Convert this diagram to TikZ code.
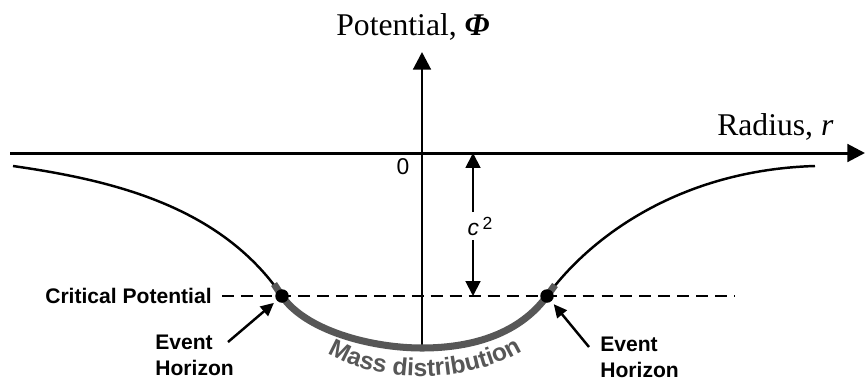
\documentclass[tikz,border=0pt]{standalone}
\usepackage{fontspec}
\setmainfont{Liberation Serif}
\setsansfont{Liberation Sans}
\usetikzlibrary{arrows.meta,decorations.text}
\definecolor{massgray}{gray}{0.34}
\newcommand\massfont{\sffamily\bfseries\fontsize{14}{14}\selectfont}
\tikzset{
  axis/.style={line width=1.7pt, -{Triangle[length=10pt,width=10pt]}},
  gap/.style={line width=1.1pt, -{Triangle[length=8.5pt,width=8.5pt]}},
  pointer/.style={line width=1.4pt, -{Triangle[length=7.5pt,width=7pt]}, shorten >=2pt},
  crit/.style={line width=1.4pt, dash pattern=on 6.8pt off 4pt},
  dot/.style={circle, fill=black, inner sep=0pt, minimum size=0.27cm},
  lbl/.style={font=\sffamily\bfseries\fontsize{12}{14.7}\selectfont, inner sep=0pt},
  ttl/.style={font=\fontsize{18}{20}\selectfont, inner sep=0pt},
  num/.style={font=\sffamily\fontsize{13}{15}\selectfont, inner sep=0pt}
}
\begin{document}
\begin{tikzpicture}[x=0.02cm, y=-0.02cm]
  \useasboundingbox (0,0) rectangle (866,383);
  %% axes
  \coordinate (xs) at (10,153);
  \coordinate (xe) at (865,153);
  \coordinate (ys) at (422,348);
  \coordinate (ye) at (422,52);
  \draw[axis] (xs) -- (xe);
  \draw[axis] (ys) -- (ye);
  \node[ttl, anchor=base] (phi) at (413,35) {Potential, \textbf{\textit{Φ}}};
  \node[ttl, anchor=base west] (rad) at (717,135) {Radius, \textit{r}};
  \node[num] (zero) at (403,167) {0};
  %% potential well
  \draw[line width=1.4pt] (13,166) .. controls (110,180) and (220,205) .. (282,296)
    .. controls (305,330) and (370,348) .. (422,348)
    .. controls (474,348) and (520,333) .. (547,296)
    .. controls (590,237) and (680,170) .. (815,166);
  \draw[massgray, line width=4pt] (274,284) -- (282,296)
    .. controls (305,330) and (370,348) .. (422,348)
    .. controls (474,348) and (520,333) .. (547,296) -- (555,285);
  \path[decorate, decoration={text along path, text align=center,
      text={|\massfont\color{massgray}|Mass distribution}}]
    (312,342) .. controls (365,388) and (480,388) .. (538,340);
  %% critical potential
  \coordinate (cs) at (222,296);
  \coordinate (ce) at (735,296);
  \draw[crit] (cs) -- (ce);
  \node[lbl, anchor=east] (critlbl) at (212,296) {Critical Potential};
  \node[dot] (ehL) at (282,296) {};
  \node[dot] (ehR) at (547,296) {};
  %% c^2 gap
  \node[num] (csq) at (480,226) {\textit{c}\,\raisebox{0.5ex}{\fontsize{10}{10}\selectfont 2}};
  \coordinate (ct) at (473,153);
  \coordinate (cb) at (473,296);
  \draw[gap] (473,212) -- (ct);
  \draw[gap] (473,240) -- (cb);
  %% event horizons
  \node[lbl, anchor=west, align=left] (evL) at (155,355) {Event\\Horizon};
  \node[lbl, anchor=west, align=left] (evR) at (600,357) {Event\\Horizon};
  \coordinate (aL) at (228,342);
  \coordinate (aR) at (589,347);
  \draw[pointer] (aL) -- (ehL);
  \draw[pointer] (aR) -- (ehR);
\end{tikzpicture}
\end{document}
